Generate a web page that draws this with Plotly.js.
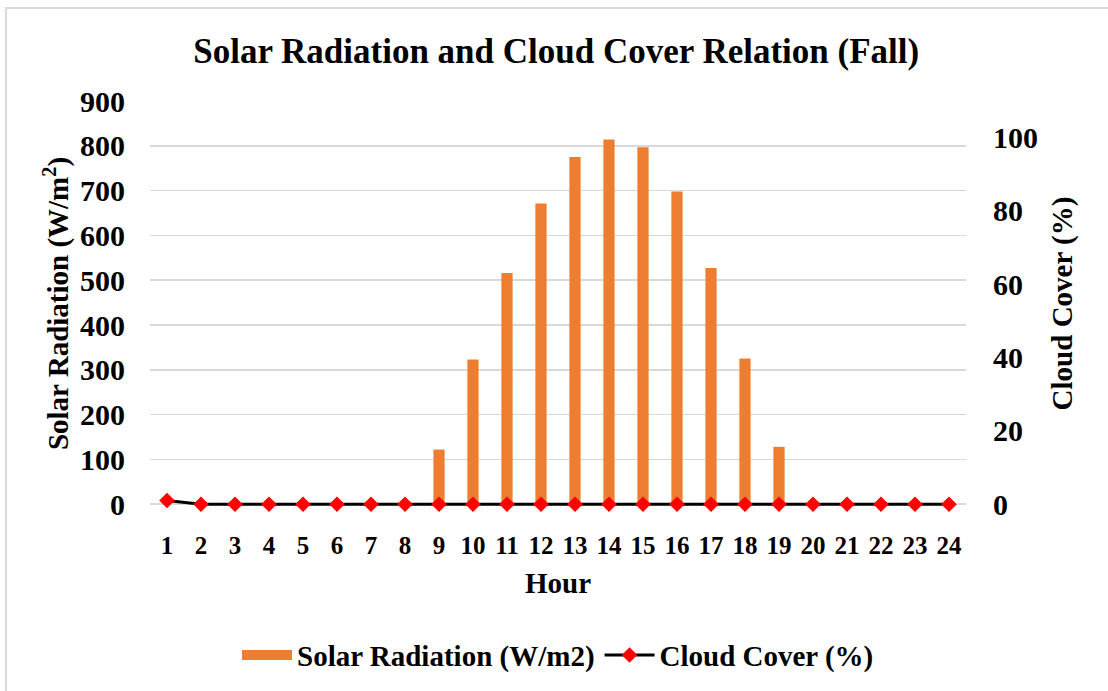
<!DOCTYPE html>
<html>
<head>
<meta charset="utf-8">
<script src="https://cdn.plot.ly/plotly-3.0.1.min.js"></script>
<style>
  html, body { margin: 0; padding: 0; background: #fff; overflow: hidden; }
  #frame { position: absolute; left: 5px; top: 7px; width: 1120px; height: 700px; border: 2px solid #d9d9d9; box-sizing: border-box; }
  #chart { position: absolute; left: 0; top: 0; width: 1108px; height: 691px; }
</style>
</head>
<body>
<div id="frame"></div>
<div id="chart"></div>
<script>
const hours = ["1","2","3","4","5","6","7","8","9","10","11","12","13","14","15","16","17","18","19","20","21","22","23","24"];
const solarRadiation = [0,0,0,0,0,0,0,0,122,323,516,671,775,814,797,698,527,325,128,0,0,0,0,0];
const cloudCover = [1,0,0,0,0,0,0,0,0,0,0,0,0,0,0,0,0,0,0,0,0,0,0,0];
const leftTicks = [0,100,200,300,400,500,600,700,800,900];
const rightTicks = [0,20,40,60,80,100];
const seriesNames = ['Solar Radiation (W/m2)', 'Cloud Cover (%)'];

const FONT = "'Liberation Serif', 'Times New Roman', serif";
const ORANGE = '#ED7D31';

const traces = [
  {
    type: 'bar', x: hours, y: solarRadiation, name: seriesNames[0],
    marker: { color: ORANGE }, width: 0.33, yaxis: 'y', showlegend: false
  },
  {
    // legend swatch only (wide orange block, like the reference legend)
    type: 'scatter', mode: 'lines', x: [null], y: [null], name: seriesNames[0],
    line: { color: ORANGE, width: 15 }, yaxis: 'y', hoverinfo: 'skip'
  },
  {
    type: 'scatter', mode: 'lines+markers', x: hours, y: cloudCover, name: seriesNames[1],
    line: { color: '#000000', width: 3 },
    marker: { symbol: 'diamond', color: '#FF0000', size: 12 },
    yaxis: 'y2', cliponaxis: false
  }
];

const layout = {
  width: 1108, height: 691,
  paper_bgcolor: 'rgba(0,0,0,0)', plot_bgcolor: 'rgba(0,0,0,0)',
  margin: { l: 150, r: 142, t: 101, b: 184 },
  font: { family: FONT, color: '#000', size: 24 },
  title: {
    text: '<b>Solar Radiation and Cloud Cover Relation (Fall)</b>',
    font: { family: FONT, size: 35, color: '#000' },
    x: 0.502, xanchor: 'center', y: 0.927, yanchor: 'middle'
  },
  xaxis: {
    type: 'category', range: [-0.5, 23.5],
    tickvals: hours, ticktext: hours.map(h => '<b>' + h + '</b>'),
    tickfont: { family: FONT, size: 25, color: '#000' },
    ticks: '', showgrid: false, zeroline: false, showline: false, ticklabelstandoff: 22,
    title: { text: '<b>Hour</b>', font: { family: FONT, size: 29, color: '#000' }, standoff: 14 }
  },
  yaxis: {
    range: [-4, 900], tickvals: leftTicks, ticktext: leftTicks.map(v => '<b>' + v + '</b>'),
    tickfont: { family: FONT, size: 30, color: '#000' },
    showgrid: true, gridcolor: '#d9d9d9', gridwidth: 1.5, zeroline: false, showline: false,
    ticks: '', ticklabelstandoff: 24,
    title: { text: '<b>Solar Radiation (W/m<sup>2</sup>)</b>', font: { family: FONT, size: 29, color: '#000' }, standoff: 2 }
  },
  yaxis2: {
    overlaying: 'y', side: 'right', range: [-0.49, 110],
    tickvals: rightTicks, ticktext: rightTicks.map(v => '<b>' + v + '</b>'),
    tickfont: { family: FONT, size: 30, color: '#000' },
    showgrid: false, zeroline: false, showline: false, ticks: '', ticklabelstandoff: 26,
    title: { text: '<b>Cloud Cover (%)</b>', font: { family: FONT, size: 29, color: '#000' }, standoff: 14 }
  },
  showlegend: true,
  legend: {
    orientation: 'h', x: 0.5, xanchor: 'center', y: -0.365, yanchor: 'middle',
    font: { family: FONT, size: 29, color: '#000', weight: 'bold' },
    itemwidth: 50
  }
};

Plotly.newPlot('chart', traces, layout, { displayModeBar: false, staticPlot: true });
</script>
</body>
</html>
